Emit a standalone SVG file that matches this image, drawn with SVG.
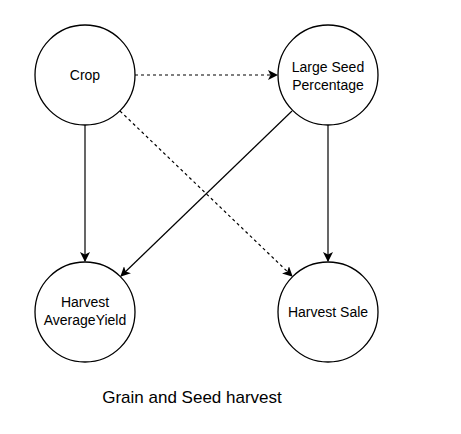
<svg xmlns="http://www.w3.org/2000/svg" width="461" height="434" viewBox="0 0 461 434">
<style>
.node{fill:#fff;stroke:#000;stroke-width:1.3}
.lbl{font-family:"Liberation Sans",Arial,sans-serif;font-size:14px;fill:#000;text-anchor:middle}
.edge{stroke:#000;stroke-width:1.2;fill:none}
.dash{stroke-dasharray:3,3}
.title{font-family:"Liberation Sans",Arial,sans-serif;font-size:17px;fill:#000;text-anchor:middle}
</style>
<defs>
<marker id="ah" viewBox="0 0 10 10" refX="9" refY="5" markerWidth="10" markerHeight="10" markerUnits="userSpaceOnUse" orient="auto">
<path d="M0,0 L10,5 L0,10 L2.5,5 Z" fill="#000"/>
</marker>
</defs>
<rect width="461" height="434" fill="#fff"/>
<g id="connectors">
<line class="edge" x1="85" y1="125" x2="85" y2="261" marker-end="url(#ah)"/>
<line class="edge dash" x1="135" y1="75" x2="277" y2="75" marker-end="url(#ah)"/>
<line class="edge dash" x1="120" y1="111" x2="292" y2="276" marker-end="url(#ah)"/>
<line class="edge" x1="292" y1="111" x2="121" y2="276" marker-end="url(#ah)"/>
<line class="edge" x1="328" y1="125" x2="328" y2="261" marker-end="url(#ah)"/>
</g>
<g id="crop">
<circle class="node" cx="85" cy="75" r="50"/>
<text class="lbl" x="85" y="80">Crop</text>
</g>
<g id="large-seed">
<circle class="node" cx="328" cy="75" r="50"/>
<text class="lbl" x="328" y="72">Large Seed</text>
<text class="lbl" x="328" y="90">Percentage</text>
</g>
<g id="harvest-yield">
<circle class="node" cx="85" cy="312" r="50"/>
<text class="lbl" x="85" y="307">Harvest</text>
<text class="lbl" x="85" y="325">AverageYield</text>
</g>
<g id="harvest-sale">
<circle class="node" cx="328" cy="312" r="50"/>
<text class="lbl" x="328" y="317">Harvest Sale</text>
</g>
<text class="title" x="192" y="403">Grain and Seed harvest</text>
</svg>
